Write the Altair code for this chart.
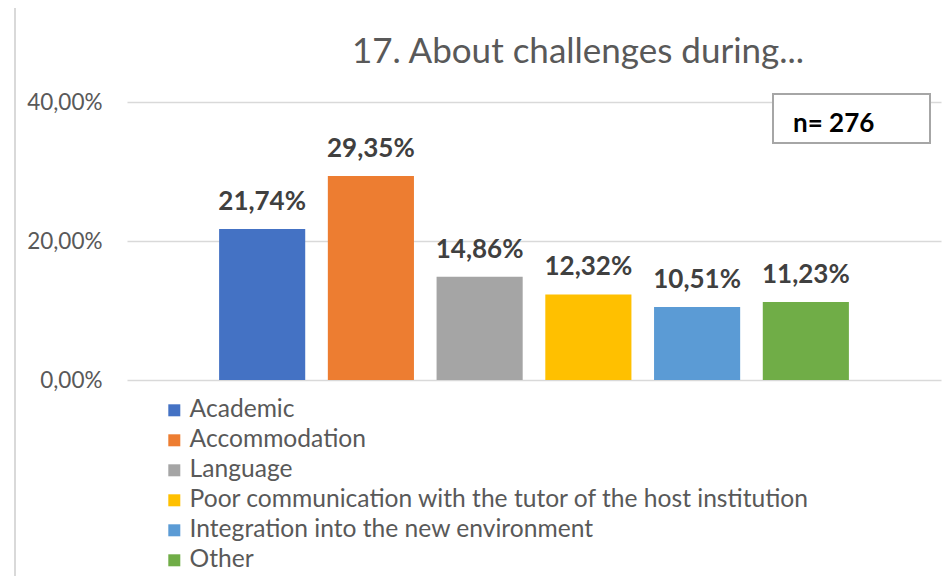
import altair as alt
import pandas as pd

categories = ["Academic", "Accommodation", "Language",
              "Poor communication with the tutor of the host institution",
              "Integration into the new environment", "Other"]
values = [21.74, 29.35, 14.86, 12.32, 10.51, 11.23]
colors = ["#4472C4", "#ED7D31", "#A5A5A5", "#FFC000", "#5B9BD5", "#70AD47"]
y_ticks = [0, 20, 40]
title_text = "17. About challenges during..."
n_text = "n= 276"

labels = [f"{v:.2f}".replace(".", ",") + "%" for v in values]
df = pd.DataFrame({"cat": categories, "val": values, "label": labels})

FONT = "Lato"

x_enc = alt.X("cat:N", sort=categories,
              scale=alt.Scale(paddingInner=0.208, paddingOuter=0.847),
              axis=alt.Axis(labels=False, ticks=False, domain=False, grid=False, title=None))
y_enc = alt.Y("val:Q", scale=alt.Scale(domain=[0, 40], nice=False),
              axis=alt.Axis(values=y_ticks, domain=False, ticks=False, grid=True,
                            gridColor="#d9d9d9", gridWidth=1.3, title=None,
                            labelFont=FONT, labelFontSize=22.5, labelColor="#595959",
                            labelPadding=25,
                            labelExpr="replace(format(datum.value, '.2f'), '.', ',') + '%'"))

frame = alt.Chart(pd.DataFrame({"a": [0]})).mark_rect(
    fillOpacity=0, stroke="#d9d9d9", strokeWidth=2
).encode(x=alt.value(-112), x2=alt.value(900), y=alt.value(-101), y2=alt.value(600))

bars = alt.Chart(df).mark_bar().encode(
    x=x_enc, y=y_enc,
    color=alt.Color("cat:N", sort=categories,
                    scale=alt.Scale(domain=categories, range=colors),
                    legend=alt.Legend(title=None, orient="none", legendX=35, legendY=296,
                                      direction="vertical", symbolType="square",
                                      symbolSize=144, symbolStrokeWidth=0,
                                      labelFont=FONT, labelFontSize=24.6, labelColor="#595959",
                                      labelOffset=3, rowPadding=5, padding=0,
                                      labelLimit=800))
)

text = alt.Chart(df).mark_text(
    font=FONT, fontSize=26, fontWeight="bold", color="#404040",
    baseline="alphabetic", dy=-19
).encode(x=alt.X("cat:N", sort=categories), y="val:Q", text="label:N")

box = alt.Chart(pd.DataFrame({"a": [0]})).mark_rect(
    fill="white", stroke="#a6a6a6", strokeWidth=2
).encode(x=alt.value(646), x2=alt.value(803), y=alt.value(-8), y2=alt.value(41))

box_text = alt.Chart(pd.DataFrame({"t": [n_text]})).mark_text(
    font=FONT, fontSize=26, fontWeight="bold", color="#000000",
    align="left", baseline="alphabetic"
).encode(x=alt.value(666), y=alt.value(30), text="t:N")

title = alt.Chart(pd.DataFrame({"t": [title_text]})).mark_text(
    font=FONT, fontSize=35, color="#595959", align="center", baseline="alphabetic"
).encode(x=alt.value(451), y=alt.value(-39), text="t:N")

chart = alt.layer(frame, bars, text, box, box_text, title).properties(
    width=814, height=278,
    padding={"left": 119, "top": 94, "right": 3, "bottom": 196},
    autosize=alt.AutoSizeParams(type="none"),
    background="white",
).configure_view(stroke=None)

chart.save("out.html", embed_options={"renderer": "svg", "actions": False})
